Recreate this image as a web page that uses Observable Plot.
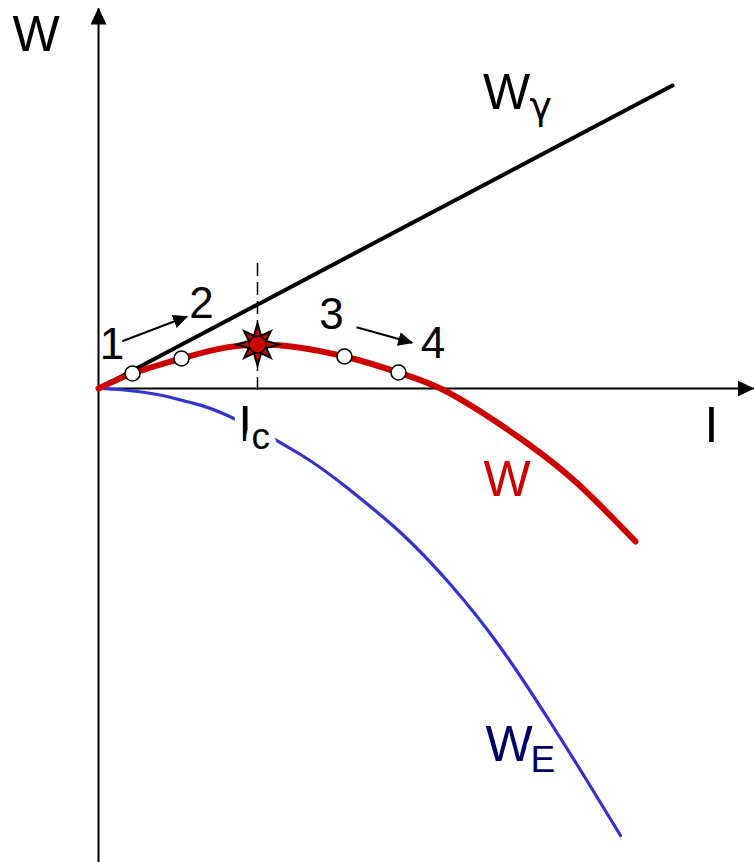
<!DOCTYPE html>
<html><head><meta charset="utf-8">
<script src="https://cdn.jsdelivr.net/npm/d3@7"></script>
<script src="https://cdn.jsdelivr.net/npm/@observablehq/plot@0.6"></script>
<style>html,body{margin:0;padding:0;background:#fff;} svg{display:block;}</style>
</head><body><div id="chart"></div>
<script>
// Griffith energy balance, crack length l vs energy W (schematic units)
const wGammaL = [0, 574];
const wGammaW = [0, 303];
const wTotalL = [0, 34, 83, 159, 246, 300, 342, 385, 429, 479, 537];
const wTotalW = [0, 15, 30, 44, 32, 16, 0, -25, -55, -95, -153];
const wElasticL = [0, 25, 59, 92, 129, 202, 252, 302, 352, 402, 452, 489, 522];
const wElasticW = [0, -1.5, -6, -14, -27, -66, -102, -144, -196, -259, -334, -393, -447];

// states 1..4 on the W curve, and the critical point
const stateL = [34, 83, 246, 300];
const stateW = [15, 30, 32, 16];
const criticalL = [159];
const criticalW = [44];
const criticalLineW = [-2, 126];

// state number labels
const stateText = ["1", "2", "3", "4"];
const stateTextL = [13.5, 103, 233, 334.5];
const stateTextW = [30, 71, 60, 31];

// transition arrows 1->2 and 3->4
const arrowFromL = [23.7, 258];
const arrowFromW = [47.3, 61.3];
const arrowToL = [88.7, 313.7];
const arrowToW = [72, 45.7];

// axis extents
const axisLMax = 655;
const axisWMin = -474;
const axisWMax = 380;

// labels: main letters and subscripts
const mainText = ["W", "I", "W", "W", "W", "I"];
const mainL = [-62.5, 613, 408, 408.5, 410.5, 146.7];
const mainW = [338, -53, 280, -107, -372, -52];
const mainColor = ["black", "black", "black", "#cc0000", "#000066", "black"];
const subText = ["E", "c"];
const subL = [432, 153];
const subW = [-383, -60];
const subColor = ["#000066", "black"];
const gammaText = ["γ"];
const gammaL = [431];
const gammaW = [270];

const tbl = (xs, ys) => xs.map((x, i) => ({x, y: ys[i], i}));
const font = "Liberation Sans, Arial, Helvetica, sans-serif";

const star8 = {
  draw(context, size) {
    const R = Math.sqrt(size / Math.PI);
    const r = R * 0.45;
    for (let i = 0; i < 16; i++) {
      const a = i * Math.PI / 8 - Math.PI / 2;
      const rad = i % 2 === 1 ? r : (i % 4 === 0 ? R : R * 0.9);
      const px = rad * Math.cos(a), py = rad * Math.sin(a);
      if (i === 0) context.moveTo(px, py); else context.lineTo(px, py);
    }
    context.closePath();
  }
};

const mains = tbl(mainL, mainW).map(d => ({...d, t: mainText[d.i], c: mainColor[d.i]}));
const subs = tbl(subL, subW).map(d => ({...d, t: subText[d.i], c: subColor[d.i]}));
const gammas = tbl(gammaL, gammaW).map(d => ({...d, t: gammaText[d.i]}));

const chart = Plot.plot({
  width: 754,
  height: 862,
  margin: 0,
  x: {domain: [-98, 656], range: [0, 754], axis: null},
  y: {domain: [-474, 388], range: [862, 0], axis: null},
  style: {background: "white", overflow: "visible"},
  marks: [
    Plot.link([0], {x1: 0, y1: axisWMin, x2: 0, y2: axisWMax, stroke: "black", strokeWidth: 2}),
    Plot.link([0], {x1: 0, y1: 0, x2: axisLMax, y2: 0, stroke: "black", strokeWidth: 2}),
    Plot.ruleX(criticalL, {x: d => d, y1: criticalLineW[0], y2: criticalLineW[1], stroke: "black", strokeWidth: 1.5, strokeDasharray: "13,6"}),
    Plot.line(tbl(wElasticL, wElasticW), {x: "x", y: "y", stroke: "#3333cc", strokeWidth: 3.2, curve: "natural"}),
    Plot.line(tbl(wGammaL, wGammaW), {x: "x", y: "y", stroke: "black", strokeWidth: 4}),
    Plot.line(tbl(wTotalL, wTotalW), {x: "x", y: "y", stroke: "#cc0000", strokeWidth: 6, curve: "natural"}),
    Plot.link(tbl(arrowFromL, arrowFromW), {x1: "x", y1: "y", x2: d => arrowToL[d.i], y2: d => arrowToW[d.i], stroke: "black", strokeWidth: 2}),
    Plot.text(stateText, {x: (d, i) => stateTextL[i], y: (d, i) => stateTextW[i], text: d => d, fontSize: 44, fontFamily: font, fill: "black", textAnchor: "middle", lineAnchor: "bottom"}),
    Plot.text(mains, {x: "x", y: "y", text: "t", fill: "c", fontSize: 50, fontFamily: font, textAnchor: "middle", lineAnchor: "bottom", stroke: "white", strokeWidth: 16, paintOrder: "stroke", strokeLinejoin: "round"}),
    Plot.text(subs, {x: "x", y: "y", text: "t", fill: "c", fontSize: 37, fontFamily: font, textAnchor: "start", lineAnchor: "bottom", stroke: "white", strokeWidth: 14, paintOrder: "stroke", strokeLinejoin: "round"}),
    Plot.text(gammas, {x: "x", y: "y", text: "t", fill: "black", fontSize: 38, fontFamily: "DejaVu Sans, sans-serif", textAnchor: "start", lineAnchor: "bottom"}),
    Plot.dot(tbl(stateL, stateW), {x: "x", y: "y", r: 7.5, fill: "white", stroke: "black", strokeWidth: 1.6}),
    Plot.dot(tbl(criticalL, criticalW), {x: "x", y: "y", r: 21, symbol: star8, fill: "#cc0000", stroke: "black", strokeWidth: 2}),
    Plot.dot(tbl(criticalL, criticalW), {x: "x", y: "y", r: 8.5, fill: "#cc0000", stroke: "black", strokeWidth: 1.5})
  ]
});

const svg = d3.select(chart);
const defs = svg.insert("defs", ":first-child");
function addMarker(id, len, wid) {
  defs.append("marker").attr("id", id)
    .attr("viewBox", `0 0 ${len} ${wid}`)
    .attr("refX", len - 1).attr("refY", wid / 2)
    .attr("markerWidth", len).attr("markerHeight", wid)
    .attr("markerUnits", "userSpaceOnUse").attr("orient", "auto")
    .append("path").attr("d", `M0,0L${len},${wid / 2}L0,${wid}Z`).attr("fill", "black");
}
addMarker("axisHead", 17, 16);
addMarker("smallHead", 15, 14);
const linkGroups = svg.selectAll('g[aria-label="link"]').nodes();
linkGroups.forEach((g, k) => {
  d3.select(g).selectAll("path").attr("marker-end", k < 2 ? "url(#axisHead)" : "url(#smallHead)");
});

document.getElementById("chart").appendChild(chart);
</script>
</body></html>
